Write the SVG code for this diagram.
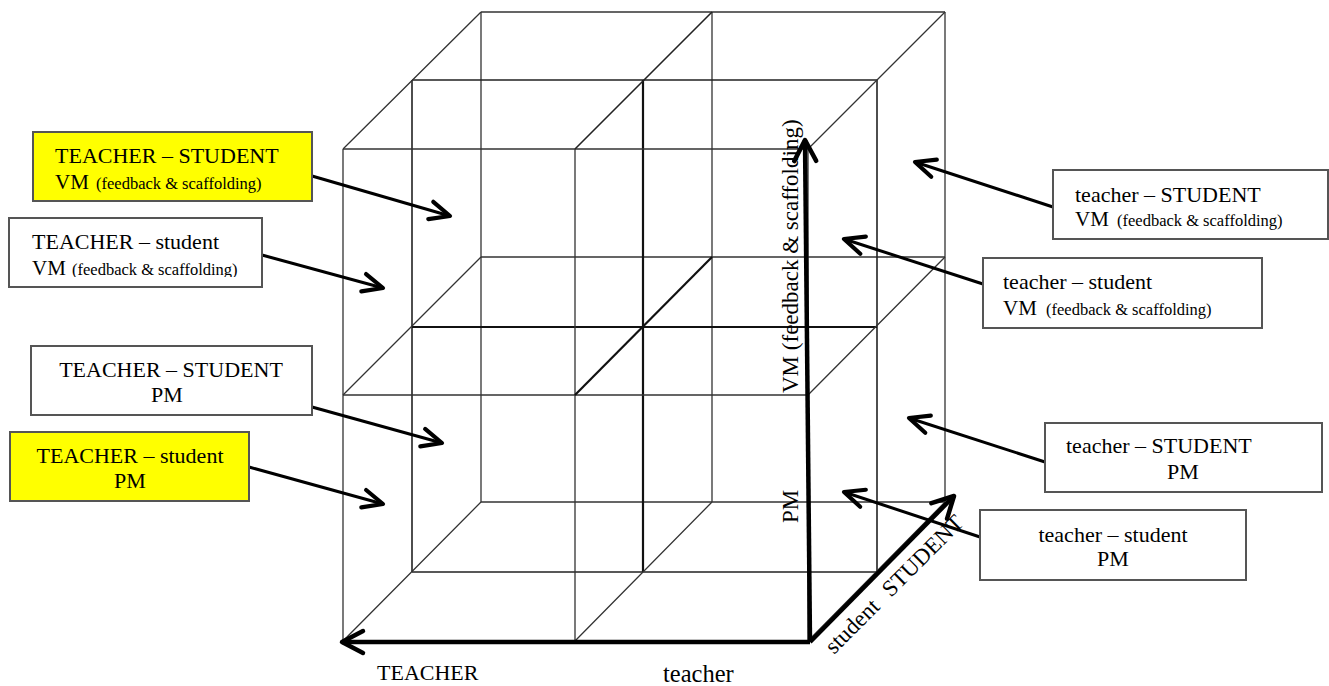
<svg xmlns="http://www.w3.org/2000/svg" width="1329" height="686" viewBox="0 0 1329 686">
<defs>
<style>
.g{stroke:#333;stroke-width:1.3;fill:none}
.gm{stroke:#222;stroke-width:1.6;fill:none}
.gt{stroke:#111;stroke-width:2.2;fill:none}
.box{stroke:#555;stroke-width:2;fill:#fff}
.yel{fill:#ffff00}
.t{font-family:"Liberation Serif","Times New Roman",serif;fill:#000}
.big{font-size:22px}
.vm{font-size:21px}
.sm{font-size:16.5px}
.con{stroke:#000;stroke-width:3;fill:none}
.axis{stroke:#000;stroke-width:4.5;fill:none}
</style>
<marker id="arr" markerUnits="userSpaceOnUse" orient="auto" overflow="visible" markerWidth="1" markerHeight="1" refX="0" refY="0">
<path d="M-20,-9 L0,0 L-20,9" fill="none" stroke="#000" stroke-width="4.2" stroke-linejoin="round" stroke-linecap="round"/>
</marker>
<marker id="axarr" markerUnits="userSpaceOnUse" orient="auto" overflow="visible" markerWidth="1" markerHeight="1" refX="0" refY="0">
<path d="M-21,-11 L0,0 L-21,11" fill="none" stroke="#000" stroke-width="4.5" stroke-linejoin="round" stroke-linecap="round"/>
</marker>
<clipPath id="clip2"><rect x="9" y="218" width="253" height="59"/></clipPath>
</defs>
<rect width="1329" height="686" fill="#fff"/>

<g id="cube">
<path class="g" d="M481,12 H945 M481,257 H945 M481,502 H945 M481,12 V502 M712,12 V502 M945,12 V502"/>
<path class="gm" d="M412,80 H877 M412,572 H877 M412,80 V572 M877,80 V572"/>
<path class="gt" d="M412,327 H877 M643,80 V572"/>
<path class="g" d="M343,149 H808 M343,395 H808 M343,641 H808 M343,149 V641 M575,149 V641 M808,149 V641"/>
<path class="g" d="M343,149 L481,12 M808,149 L945,12 M343,395 L481,257 M808,395 L945,257 M343,641 L481,502 M575,641 L712,502 M808,641 L945,502"/>
<path class="gm" d="M575,149 L712,12"/>
<path class="gt" d="M575,395 L712,257"/>
</g>

<g id="axes">
<path class="axis" d="M810,642 L805,140" marker-end="url(#axarr)"/>
<path class="axis" d="M810,642 L342,642" marker-end="url(#axarr)"/>
<path class="axis" d="M810,642 L954,496" marker-end="url(#axarr)"/>
<text class="t" font-size="23" transform="translate(798,393) rotate(-90)">VM (feedback &amp; scaffolding)</text>
<text class="t" font-size="23" transform="translate(798,523) rotate(-90)">PM</text>
<text class="t" font-size="23" transform="translate(834,655) rotate(-45)"><tspan>student</tspan><tspan dx="14">STUDENT</tspan></text>
<text class="t" font-size="22" x="377" y="680">TEACHER</text>
<text class="t" font-size="24.5" x="663" y="682">teacher</text>
</g>

<g id="connectors">
<path class="con" d="M312,176 L450,216" marker-end="url(#arr)"/>
<path class="con" d="M262,255 L383,288" marker-end="url(#arr)"/>
<path class="con" d="M312,407 L442,443" marker-end="url(#arr)"/>
<path class="con" d="M249,467 L383,504" marker-end="url(#arr)"/>
<path class="con" d="M1053,207 L915,162" marker-end="url(#arr)"/>
<path class="con" d="M983,284 L844,239" marker-end="url(#arr)"/>
<path class="con" d="M1045,462 L909,418" marker-end="url(#arr)"/>
<path class="con" d="M980,537 L844,492" marker-end="url(#arr)"/>
</g>

<g id="box-TS-VM">
<rect class="box yel" x="33" y="132" width="279" height="69"/>
<text class="t big" x="55" y="163">TEACHER – STUDENT</text>
<text class="t vm" x="55" y="189">VM</text>
<text class="t sm" x="96" y="189">(feedback &amp; scaffolding)</text>
</g>

<g id="box-Ts-VM">
<rect class="box" x="9" y="218" width="253" height="69"/>
<text class="t big" x="32" y="249">TEACHER – student</text>
<g clip-path="url(#clip2)">
<text class="t vm" x="32" y="275">VM</text>
<text class="t sm" x="72" y="275">(feedback &amp; scaffolding)</text>
</g>
</g>

<g id="box-TS-PM">
<rect class="box" x="31" y="346" width="281" height="69"/>
<text class="t big" x="171" y="377" text-anchor="middle">TEACHER – STUDENT</text>
<text class="t big" x="167" y="402" text-anchor="middle">PM</text>
</g>

<g id="box-Ts-PM">
<rect class="box yel" x="10" y="432" width="239" height="69"/>
<text class="t big" x="130" y="463" text-anchor="middle">TEACHER – student</text>
<text class="t big" x="130" y="488" text-anchor="middle">PM</text>
</g>

<g id="box-tS-VM">
<rect class="box" x="1053" y="170" width="275" height="69"/>
<text class="t big" x="1075" y="202">teacher – STUDENT</text>
<text class="t vm" x="1075" y="226">VM</text>
<text class="t sm" x="1117" y="226">(feedback &amp; scaffolding)</text>
</g>

<g id="box-ts-VM">
<rect class="box" x="983" y="258" width="279" height="70"/>
<text class="t big" x="1003" y="289">teacher – student</text>
<text class="t vm" x="1003" y="315">VM</text>
<text class="t sm" x="1046" y="315">(feedback &amp; scaffolding)</text>
</g>

<g id="box-tS-PM">
<rect class="box" x="1045" y="423" width="277" height="69"/>
<text class="t big" x="1066" y="453">teacher – STUDENT</text>
<text class="t big" x="1167" y="479">PM</text>
</g>

<g id="box-ts-PM">
<rect class="box" x="980" y="510" width="266" height="70"/>
<text class="t big" x="1113" y="542" text-anchor="middle">teacher – student</text>
<text class="t big" x="1113" y="566" text-anchor="middle">PM</text>
</g>
</svg>
